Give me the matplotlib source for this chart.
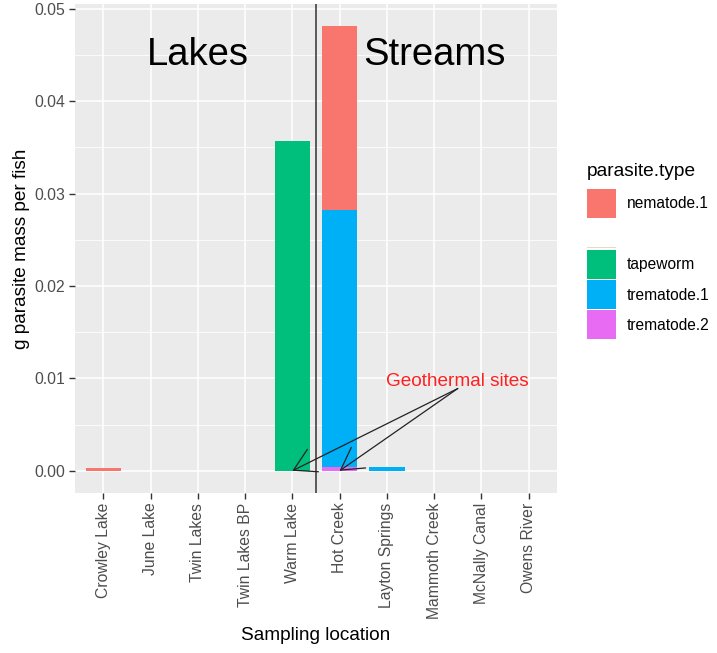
import matplotlib
matplotlib.use("Agg")
import matplotlib.pyplot as plt
from matplotlib.patches import Rectangle
import numpy as np

plt.rcParams['font.family'] = ['Liberation Sans', 'DejaVu Sans']

# Sampling locations (lakes first, then streams)
locations = ["Crowley Lake", "June Lake", "Twin Lakes", "Twin Lakes BP", "Warm Lake",
             "Hot Creek", "Layton Springs", "Mammoth Creek", "McNally Canal", "Owens River"]

# Parasite types, in factor order (blank level kept as in the data)
parasite_types = ["nematode.1", "", "tapeworm", "trematode.1", "trematode.2"]
type_colors = ["#F8766D", "#A3A500", "#00BF7D", "#00B0F6", "#E76BF3"]

# g parasite mass per fish, per location
nematode_1 = [0.0003, 0, 0, 0, 0, 0.0199, 0, 0, 0, 0]
blank_type = [0, 0, 0, 0, 0, 0, 0, 0, 0, 0]
tapeworm = [0, 0, 0, 0, 0.0357, 0, 0, 0, 0, 0]
trematode_1 = [0, 0, 0, 0, 0, 0.0278, 0.0004, 0, 0, 0]
trematode_2 = [0, 0, 0, 0, 0, 0.0004, 0, 0, 0, 0]

series = [nematode_1, blank_type, tapeworm, trematode_1, trematode_2]
yticks = [0.00, 0.01, 0.02, 0.03, 0.04, 0.05]

W, H = 717, 653
fig = plt.figure(figsize=(W / 100, H / 100), dpi=100)
fig.patch.set_facecolor("white")
ax = fig.add_axes([75 / W, (H - 493) / H, (557 - 75) / W, (493 - 4) / H])
ax.set_facecolor("#EBEBEB")

x = np.arange(1, len(locations) + 1)

# stack with the last level at the bottom, first level on top
bottom = np.zeros(len(locations))
for vals, col in zip(series[::-1], type_colors[::-1]):
    v = np.array(vals, dtype=float)
    ax.bar(x, v, width=0.75, bottom=bottom, color=col, linewidth=0, zorder=3)
    bottom += v

ax.set_xlim(0.4, len(locations) + 0.6)
ymax = bottom.max()
ax.set_ylim(-0.05 * ymax, ymax * 1.05)

# grid
ax.set_xticks(x)
ax.set_xticklabels(locations, rotation=90, ha="center", va="top")
ax.set_yticks(yticks)
ax.set_yticklabels([f"{t:.2f}" for t in yticks])
ax.set_yticks(np.arange(0.005, 0.051, 0.01), minor=True)
ax.grid(True, which="major", color="white", linewidth=1.1, zorder=0)
ax.grid(True, which="minor", axis="y", color="white", linewidth=0.55, zorder=0)
ax.set_axisbelow(True)
for s in ax.spines.values():
    s.set_visible(False)
ax.tick_params(axis="both", which="major", length=4, width=1, color="#333333",
               labelcolor="#4D4D4D", labelsize=11.3, pad=3)
ax.tick_params(axis="y", which="minor", length=0)

ax.set_xlabel("Sampling location", fontsize=13.7, color="black", labelpad=6)
ax.set_ylabel("g parasite mass per fish", fontsize=13.7, color="black", labelpad=3)

# lake / stream divider and group labels
ax.axvline(5.5, color="#333333", linewidth=1.1, zorder=4)
ax.text(3, 0.045, "Lakes", fontsize=27.5, ha="center", va="center", zorder=5)
ax.text(8, 0.045, "Streams", fontsize=27.5, ha="center", va="center", zorder=5)

# geothermal annotation
ax.text(8.5, 0.0097, "Geothermal sites", color="#FF2020", fontsize=13.7,
        ha="center", va="center", zorder=5)
for tx in (5, 6):
    ax.annotate("", xy=(tx, 0), xytext=(8.5, 0.0089),
                arrowprops=dict(arrowstyle="->,head_length=15.6,head_width=9",
                                mutation_scale=1, color="#222222", lw=0.9,
                                shrinkA=0, shrinkB=0), zorder=6)

# legend
def fx(px):
    return px / W

def fy(py):
    return (H - py) / H

fig.text(fx(587), fy(172), "parasite.type", fontsize=13.8, ha="left", va="center")
slot_tops = [189, 219, 250, 280, 310]
key_w = 29
for name, col, top in zip(parasite_types, type_colors, slot_tops):
    if name == "":
        fig.add_artist(Rectangle((fx(587), fy(248)), fx(key_w), 1.5 / H,
                                 transform=fig.transFigure, facecolor="#E6DDB8",
                                 edgecolor="none"))
        continue
    fig.add_artist(Rectangle((fx(587), fy(top + 29)), fx(key_w), 29 / H,
                             transform=fig.transFigure, facecolor=col,
                             edgecolor="none"))
    fig.text(fx(627), fy(top + 15), name, fontsize=11.2, ha="left", va="center")

fig.savefig("out.png", dpi=100)
